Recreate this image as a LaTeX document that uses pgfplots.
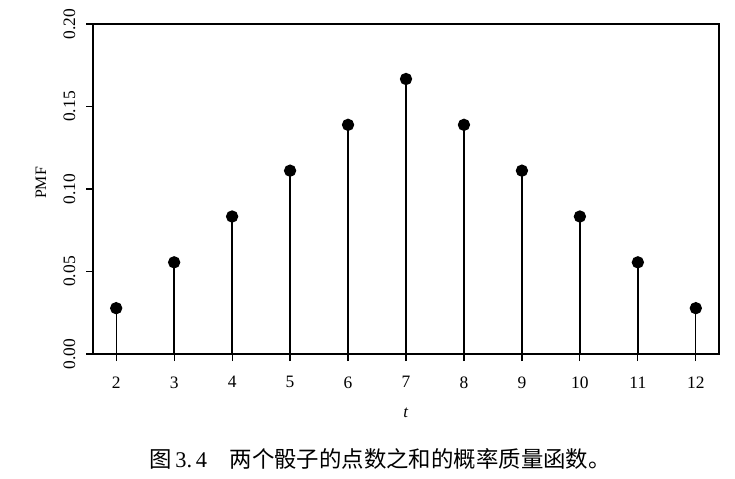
\documentclass[border=0pt]{standalone}
\usepackage{fontspec}
\setmainfont{Liberation Serif}
\newfontfamily\cjk{Noto Sans CJK SC}
\usepackage{pgfplots}
\pgfplotsset{compat=1.18}
\usetikzlibrary{calc}

\begin{document}
\begin{tikzpicture}
\begin{axis}[
    name=ax,
    scale only axis,
    width=626bp, height=330bp,
    xmin=1.6, xmax=12.4,
    ymin=0, ymax=0.2,
    xtick={2,...,12},
    ytick={0,0.05,...,0.2},
    xtick pos=bottom, ytick pos=left,
    tick align=outside,
    major tick length=7bp,
    axis line style={line width=1.2bp},
    every tick/.style={line width=1.2bp, black},
    /pgf/number format/assume math mode=true,
    yticklabel style={/pgf/number format/fixed, /pgf/number format/fixed zerofill,
        /pgf/number format/precision=2, rotate=90, anchor=south},
    yticklabel shift=7bp,
    xticklabel shift=12bp,
    tick label style={font=\fontsize{17.5}{19}\selectfont},
    xlabel style={at={(axis description cs:0.5,0)}, anchor=center, yshift=-59bp},
    ylabel style={at={(axis description cs:0,0.5)}, anchor=center, yshift=52bp, xshift=6bp},
    xlabel={\fontsize{17}{19}\selectfont\textit{t}},
    ylabel={\fontsize{16}{19}\selectfont PMF},
    clip=false,
]
\addplot[ycomb, line width=1.3bp, black, mark=*, mark size=5.5bp,
    mark options={fill=black}] coordinates {
    (2,0.02778) (3,0.05556) (4,0.08333) (5,0.11111) (6,0.13889)
    (7,0.16667) (8,0.13889) (9,0.11111) (10,0.08333) (11,0.05556) (12,0.02778)
};
\end{axis}
\node[font=\fontsize{22.5}{25}\selectfont\cjk, anchor=center]
    at ($(ax.south west)+(287bp,-105bp)$)
    {图\,{\rmfamily 3.\,4}\quad 两个骰子的点数之和的概率质量函数。};
\path ($(ax.south west)+(-93bp,-125bp)$) rectangle ($(ax.north east)+(16bp,24bp)$);
\end{tikzpicture}
\end{document}
